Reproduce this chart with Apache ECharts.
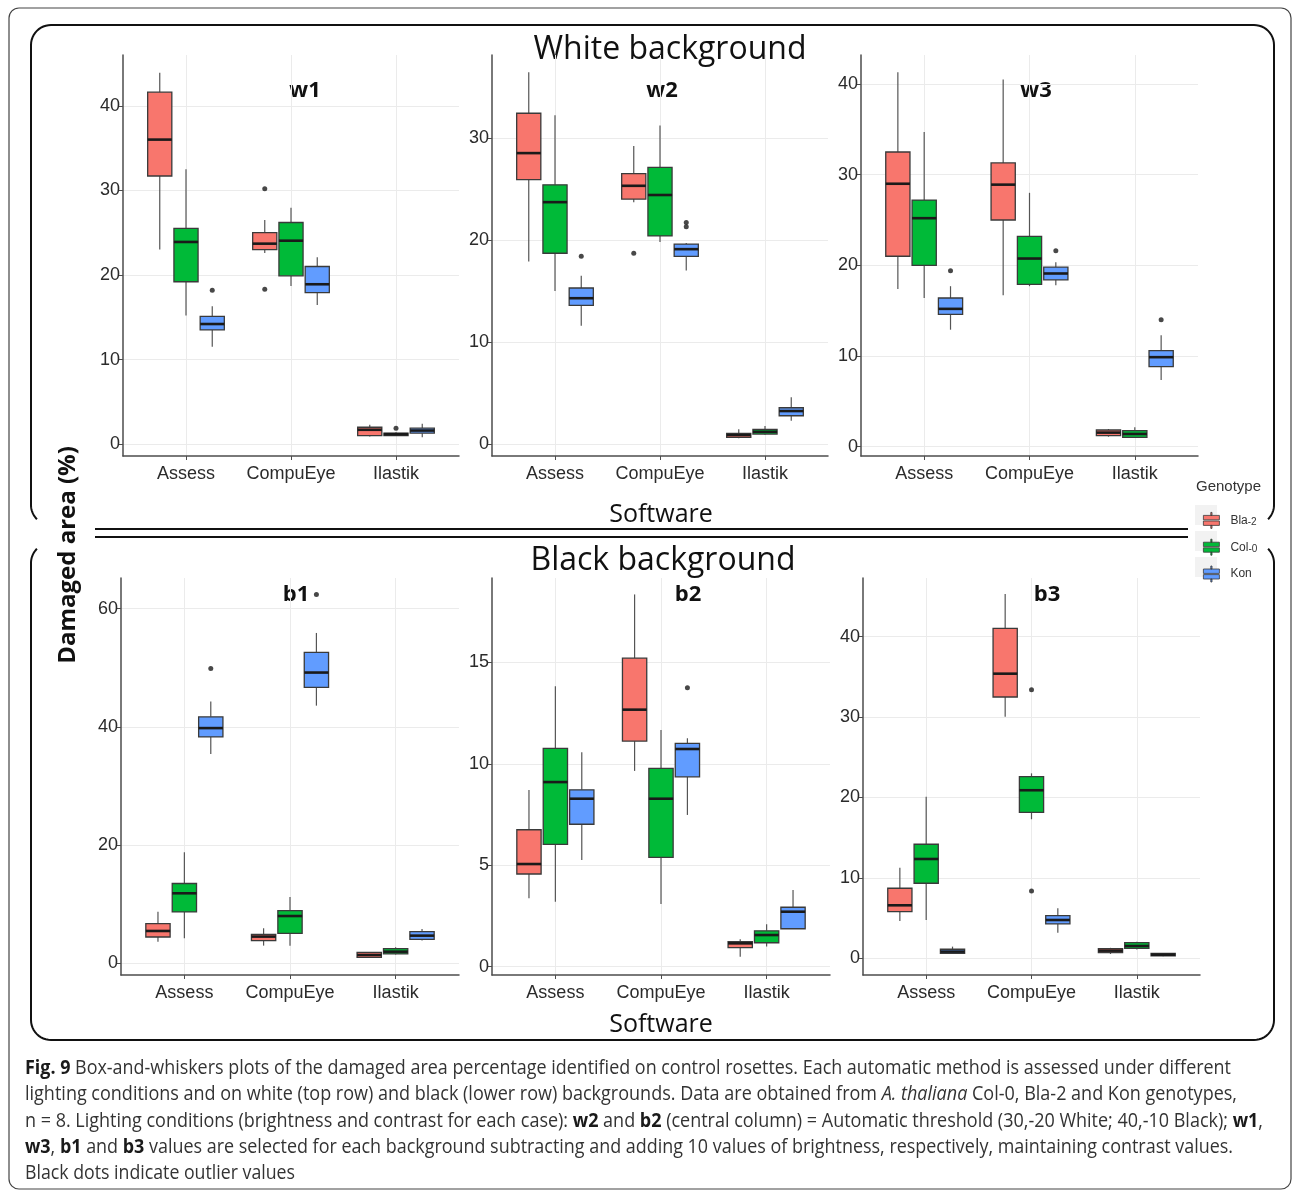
<!DOCTYPE html>
<html>
<head>
<meta charset="utf-8">
<title>Fig. 9 damaged area</title>
<script src="https://cdn.jsdelivr.net/npm/echarts@6.0.0/dist/echarts.min.js"></script>
<style>
html, body { margin: 0; padding: 0; background: #fff; }
#main { width: 1293px; height: 1192px; }
</style>
</head>
<body>
<div id="main"></div>
<script>
var categories = ['Assess', 'CompuEye', 'Ilastik'];
var genotypes = ['Bla-2', 'Col-0', 'Kon'];
var panelNames = ['w1', 'w2', 'w3', 'b1', 'b2', 'b3'];

// [lower whisker, Q1, median, Q3, upper whisker] for Assess, CompuEye, Ilastik
var w1Bla = [[23.0, 31.7, 36.0, 41.6, 43.9], [22.6, 23.0, 23.7, 25.0, 26.5], [0.9, 1.0, 1.7, 2.0, 2.3]];
var w1Col = [[15.2, 19.2, 23.9, 25.5, 32.5], [18.7, 19.9, 24.05, 26.2, 27.95], [0.95, 1.0, 1.18, 1.3, 1.4]];
var w1Kon = [[11.5, 13.5, 14.2, 15.1, 16.3], [16.45, 17.9, 18.9, 21.0, 22.1], [0.83, 1.3, 1.61, 1.89, 2.4]];
var w2Bla = [[17.9, 25.9, 28.5, 32.4, 36.4], [23.7, 24.0, 25.3, 26.5, 29.2], [0.6, 0.68, 0.91, 1.08, 1.47]];
var w2Col = [[15.0, 18.7, 23.7, 25.4, 32.2], [19.8, 20.4, 24.4, 27.1, 31.2], [0.95, 1.01, 1.23, 1.47, 1.79]];
var w2Kon = [[11.6, 13.6, 14.3, 15.3, 16.5], [17.0, 18.4, 19.1, 19.6, 19.7], [2.31, 2.8, 3.26, 3.58, 4.6]];
var w3Bla = [[17.4, 21.0, 29.0, 32.5, 41.3], [16.7, 25.0, 28.9, 31.3, 40.5], [1.1, 1.21, 1.55, 1.84, 1.95]];
var w3Col = [[16.4, 20.0, 25.2, 27.2, 34.7], [17.7, 17.9, 20.75, 23.2, 28.0], [0.95, 1.03, 1.4, 1.77, 2.14]];
var w3Kon = [[12.9, 14.6, 15.2, 16.4, 17.7], [17.8, 18.4, 19.1, 19.8, 20.35], [7.36, 8.83, 9.87, 10.6, 12.3]];
var b1Bla = [[3.66, 4.45, 5.47, 6.71, 8.74], [2.99, 3.84, 4.52, 4.91, 5.93], [0.9, 1.01, 1.41, 1.86, 1.9]];
var b1Col = [[4.23, 8.69, 11.85, 13.5, 18.8], [2.99, 5.08, 8.0, 8.92, 11.2], [1.5, 1.58, 1.97, 2.48, 2.71]];
var b1Kon = [[35.4, 38.3, 39.8, 41.7, 44.3], [43.6, 46.7, 49.2, 52.6, 55.9], [3.84, 4.06, 4.68, 5.36, 5.81]];
var b2Bla = [[3.37, 4.57, 5.06, 6.75, 8.71], [9.65, 11.12, 12.67, 15.21, 18.35], [0.49, 0.94, 1.15, 1.23, 1.35]];
var b2Col = [[3.2, 6.03, 9.1, 10.76, 13.83], [3.09, 5.39, 8.28, 9.78, 11.67], [0.99, 1.18, 1.56, 1.77, 2.09]];
var b2Kon = [[5.26, 7.02, 8.28, 8.72, 10.57], [7.48, 9.36, 10.73, 11.01, 11.26], [1.87, 1.87, 2.71, 2.93, 3.78]];
var b3Bla = [[4.64, 5.8, 6.59, 8.71, 11.27], [30.05, 32.5, 35.4, 41.04, 45.3], [0.53, 0.7, 0.95, 1.2, 1.3]];
var b3Col = [[4.76, 9.33, 12.35, 14.18, 20.1], [17.29, 18.16, 20.9, 22.6, 23.0], [1.1, 1.24, 1.53, 1.94, 2.07]];
var b3Kon = [[0.55, 0.62, 0.83, 1.12, 1.45], [3.19, 4.27, 4.76, 5.3, 6.22], [0.25, 0.3, 0.45, 0.6, 0.65]];

// outliers: [software index, genotype index, value]
var w1Out = [[0, 2, 18.2], [1, 0, 30.2], [1, 0, 18.3], [2, 1, 1.89]];
var w2Out = [[0, 2, 18.4], [1, 0, 18.7], [1, 2, 21.7], [1, 2, 21.3]];
var w3Out = [[0, 2, 19.4], [1, 2, 21.6], [2, 2, 14.0]];
var b1Out = [[0, 2, 49.9], [1, 2, 62.4]];
var b2Out = [[1, 2, 13.75]];
var b3Out = [[1, 1, 33.4], [1, 1, 8.37]];

var yMin = [-1.4, -1.14, -1.03, -1.98, -0.41, -2.08];
var yMax = [46.0, 38.1, 43.2, 65.2, 19.16, 47.3];
var yTicks = [[0, 10, 20, 30, 40], [0, 10, 20, 30], [0, 10, 20, 30, 40], [0, 20, 40, 60], [0, 5, 10, 15], [0, 10, 20, 30, 40]];

var boxes = [[w1Bla, w1Col, w1Kon], [w2Bla, w2Col, w2Kon], [w3Bla, w3Col, w3Kon],
             [b1Bla, b1Col, b1Kon], [b2Bla, b2Col, b2Kon], [b3Bla, b3Col, b3Kon]];
var outliers = [w1Out, w2Out, w3Out, b1Out, b2Out, b3Out];

var colors = ['#F8766D', '#00BA38', '#619CFF'];
var grids = [
  {left: 123, top: 55, width: 336, height: 401},
  {left: 492, top: 55, width: 336, height: 401},
  {left: 861, top: 55, width: 337, height: 401},
  {left: 121, top: 578, width: 338, height: 397},
  {left: 492, top: 578, width: 338, height: 397},
  {left: 863, top: 578, width: 337, height: 397}
];
var titlePos = [[305, 91], [662, 91], [1036, 91], [296, 595], [688, 595], [1047, 595]];

var mctx = document.createElement('canvas').getContext('2d');
function hasFont(name) {
  mctx.font = '40px monospace';
  var a = mctx.measureText('AssessCompuEye 0123').width;
  mctx.font = '40px "' + name + '", monospace';
  return mctx.measureText('AssessCompuEye 0123').width !== a;
}
var narrow = hasFont('Liberation Sans Narrow');
var tickFont = narrow ? 'Liberation Sans Narrow' : 'Liberation Sans';
var tickSize = narrow ? 21 : 17;

var BOX_W = 0.23;
function renderBox(params, api) {
  var x = api.value(0);
  var lo = api.coord([x, api.value(1)]);
  var q1 = api.coord([x, api.value(2)]);
  var md = api.coord([x, api.value(3)]);
  var q3 = api.coord([x, api.value(4)]);
  var hi = api.coord([x, api.value(5)]);
  var half = api.size([BOX_W, 0])[0] / 2;
  var cx = lo[0];
  return {
    type: 'group',
    children: [
      {type: 'line', shape: {x1: cx, y1: hi[1], x2: cx, y2: q3[1]}, style: {stroke: '#555', lineWidth: 1.2}},
      {type: 'line', shape: {x1: cx, y1: q1[1], x2: cx, y2: lo[1]}, style: {stroke: '#555', lineWidth: 1.2}},
      {type: 'rect', shape: {x: cx - half, y: q3[1], width: 2 * half, height: q1[1] - q3[1]},
       style: {fill: api.visual('color'), stroke: '#3a3a3a', lineWidth: 1.3}},
      {type: 'line', shape: {x1: cx - half, y1: md[1], x2: cx + half, y2: md[1]}, style: {stroke: '#1a1a1a', lineWidth: 2.6}}
    ]
  };
}

var series = [];
boxes.forEach(function (panel, p) {
  panel.forEach(function (rowsIn, g) {
    series.push({
      type: 'custom', name: genotypes[g], xAxisIndex: p, yAxisIndex: p,
      renderItem: renderBox, itemStyle: {color: colors[g]},
      encode: {x: 0, y: [1, 2, 3, 4, 5]}, silent: true,
      data: rowsIn.map(function (v, c) { return [c + 1 + (g - 1) * 0.25].concat(v); })
    });
  });
  series.push({
    type: 'scatter', xAxisIndex: p, yAxisIndex: p, symbolSize: 5, silent: true,
    itemStyle: {color: '#1a1a1a'},
    data: outliers[p].map(function (o) { return [o[0] + 1 + (o[1] - 1) * 0.25, o[2]]; })
  });
});

var xAxes = grids.map(function (gr, i) {
  return {
    type: 'value', gridIndex: i, min: 0.4, max: 3.6,
    axisLine: {show: true, onZero: false, lineStyle: {color: '#4d4d4d', width: 1.5}},
    axisTick: {show: true, customValues: [1, 2, 3], length: 4, lineStyle: {color: '#4d4d4d'}},
    axisLabel: {customValues: [1, 2, 3], formatter: function (v) { return categories[Math.round(v) - 1]; },
                color: '#2b2b2b', fontFamily: tickFont, fontSize: tickSize + 1, margin: 9},
    splitLine: {show: true, lineStyle: {color: '#ebebeb', width: 1}}
  };
});
var yAxes = grids.map(function (gr, i) {
  return {
    type: 'value', gridIndex: i, min: yMin[i], max: yMax[i],
    axisLine: {show: true, onZero: false, lineStyle: {color: '#4d4d4d', width: 1.5}},
    axisTick: {show: true, customValues: yTicks[i], length: 4, lineStyle: {color: '#4d4d4d'}},
    axisLabel: {customValues: yTicks[i], color: '#2b2b2b', fontFamily: tickFont, fontSize: tickSize + 1, margin: 3},
    splitLine: {show: true, lineStyle: {color: '#ebebeb', width: 1}}
  };
});

function arc(cx, cy, r, a0, a1) {
  var pts = [], n = 12;
  for (var k = 0; k <= n; k++) {
    var a = a0 + (a1 - a0) * k / n;
    pts.push([cx + r * Math.cos(a), cy + r * Math.sin(a)]);
  }
  return pts;
}
var PI = Math.PI;
var topFrame = [].concat(
  arc(51, 505, 20, 2.35, PI), arc(51, 45, 20, PI, 1.5 * PI),
  arc(1254, 45, 20, 1.5 * PI, 2 * PI), arc(1254, 505, 20, 0, PI - 2.35));
var bottomFrame = [].concat(
  arc(51, 563, 20, PI + 0.79, PI), arc(51, 1020, 20, PI, 0.5 * PI),
  arc(1254, 1020, 20, 0.5 * PI, 0), arc(1254, 563, 20, 0, -0.79));

function txt(x, y, s, size, opts) {
  opts = opts || {};
  return {
    type: 'text', x: x, y: y, rotation: opts.rotation || 0,
    style: {text: s, fontFamily: opts.family || 'Open Sans', fontSize: size, fontWeight: opts.bold ? 'bold' : 'normal',
            fill: opts.color || '#111', align: opts.align || 'center', verticalAlign: 'middle',
            textAlign: opts.align || 'center', textVerticalAlign: 'middle'}
  };
}

var graphics = [
  {type: 'rect', shape: {x: 9, y: 8, width: 1282, height: 1181, r: 10}, style: {fill: 'none', stroke: '#444', lineWidth: 1.2}},
  {type: 'polyline', shape: {points: topFrame}, style: {fill: 'none', stroke: '#111', lineWidth: 2}},
  {type: 'polyline', shape: {points: bottomFrame}, style: {fill: 'none', stroke: '#111', lineWidth: 2}},
  {type: 'line', shape: {x1: 95, y1: 529, x2: 1188, y2: 529}, style: {stroke: '#111', lineWidth: 2}},
  {type: 'line', shape: {x1: 95, y1: 537, x2: 1188, y2: 537}, style: {stroke: '#111', lineWidth: 2}},
  txt(670, 50, 'White background', 32),
  txt(663, 561, 'Black background', 32),
  txt(661, 515, 'Software', 25),
  txt(661, 1025, 'Software', 25),
  txt(68, 555, 'Damaged area (%)', 24, {bold: true, rotation: PI / 2}),
  txt(1196, 487, 'Genotype', 15, {family: 'Liberation Sans', align: 'left', color: '#333'})
];
panelNames.forEach(function (nm, i) {
  graphics.push(txt(titlePos[i][0], titlePos[i][1], nm, 22, {bold: true}));
});
[515, 541, 567].forEach(function (cy) {
  graphics.push({type: 'rect', shape: {x: 1195, y: cy - 10, width: 22, height: 20}, style: {fill: '#f2f2f2'}});
});

// caption
var capFamily = 'Open Sans', capSize = 19.5;
var capLines = [
  [['b', 'Fig. 9'], ['n', ' Box-and-whiskers plots of the damaged area percentage identified on control rosettes. Each automatic method is assessed under different']],
  [['n', 'lighting conditions and on white (top row) and black (lower row) backgrounds. Data are obtained from '], ['i', 'A. thaliana'], ['n', ' Col-0, Bla-2 and Kon genotypes,']],
  [['n', 'n = 8. Lighting conditions (brightness and contrast for each case): '], ['b', 'w2'], ['n', ' and '], ['b', 'b2'], ['n', ' (central column) = Automatic threshold (30,-20 White; 40,-10 Black); '], ['b', 'w1'], ['n', ',']],
  [['b', 'w3'], ['n', ', '], ['b', 'b1'], ['n', ' and '], ['b', 'b3'], ['n', ' values are selected for each background subtracting and adding 10 values of brightness, respectively, maintaining contrast values.']],
  [['n', 'Black dots indicate outlier values']]
];
var capWidths = [1206, 1212, 1238, 1208, 270];
var capY = [1068, 1094, 1121, 1147, 1173];
function capFont(k) {
  return (k === 'i' ? 'italic ' : '') + (k === 'b' ? 'bold ' : '') + capSize + 'px "' + capFamily + '"';
}
var capRich = {
  n: {fontFamily: capFamily, fontSize: capSize, fill: '#333'},
  b: {fontFamily: capFamily, fontSize: capSize, fontWeight: 'bold', fill: '#1a1a1a'},
  i: {fontFamily: capFamily, fontSize: capSize, fontStyle: 'italic', fill: '#333'}
};
capLines.forEach(function (segs, li) {
  var w = 0;
  segs.forEach(function (s) { mctx.font = capFont(s[0]); w += mctx.measureText(s[1]).width; });
  graphics.push({
    type: 'text', x: 25, y: capY[li], scaleX: capWidths[li] / w,
    style: {text: segs.map(function (s) { return '{' + s[0] + '|' + s[1] + '}'; }).join(''),
            rich: capRich, fontFamily: capFamily, fontSize: capSize, fill: '#333',
            verticalAlign: 'middle', textVerticalAlign: 'middle'}
  });
});

var chart = echarts.init(document.getElementById('main'));
chart.setOption({
  backgroundColor: '#fff',
  animation: false,
  grid: grids,
  xAxis: xAxes,
  yAxis: yAxes,
  legend: {
    data: genotypes, orient: 'vertical', left: 1198, top: 507, itemWidth: 16, itemHeight: 16, itemGap: 10,
    selectedMode: false,
    icon: 'path://M7.4,0H8.6V3H7.4Z M0,3H16V7.4H0Z M0,8.6H16V13H0Z M7.4,13H8.6V16H7.4Z',
    itemStyle: {borderColor: '#3a3a3a', borderWidth: 0.8},
    textStyle: {color: '#333', fontFamily: 'Liberation Sans', fontSize: 12, padding: [0, 0, 0, 6],
                rich: {s: {fontSize: 10, fontFamily: 'Liberation Sans', color: '#333', padding: [4, 0, 0, 0]}}},
    formatter: function (n) {
      var k = n.indexOf('-');
      return k < 0 ? n : n.slice(0, k) + '{s|' + n.slice(k) + '}';
    }
  },
  graphic: {elements: graphics},
  series: series
});
</script>
</body>
</html>
